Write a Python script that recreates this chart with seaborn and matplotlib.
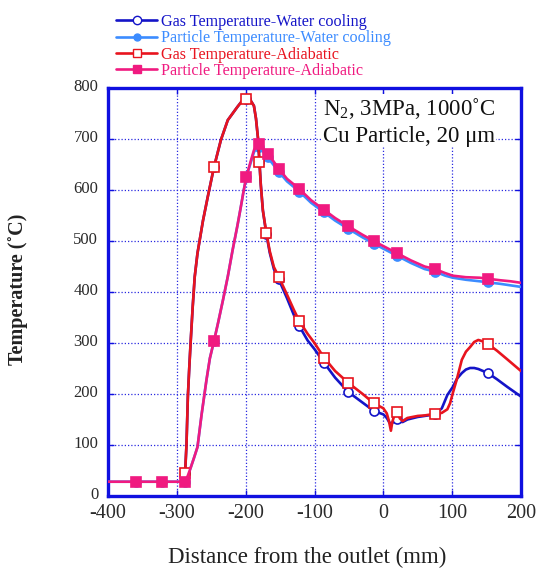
import matplotlib
matplotlib.use("Agg")
import matplotlib.pyplot as plt
import matplotlib.transforms as mtransforms
import seaborn as sns
from matplotlib.lines import Line2D

# ---------------- data ----------------
x_gas = [-290, -288, -286, -284, -282, -280, -277, -274, -270, -262, -255, -246, -236, -226,
         -212, -205, -199, -193, -188, -185, -182, -180, -178, -175, -170, -165, -159, -152,
         -140, -130, -122, -110, -100, -86, -70, -51, -30, -14, 0, 5, 8, 11, 13, 16, 20, 24,
         28, 35, 50, 60, 75, 85, 93, 97, 101, 107, 114, 120, 126, 132, 138, 145, 152, 165,
         180, 200]
gas_adiabatic = [30, 45, 100, 194, 250, 300, 370, 430, 476, 540, 587, 645, 698, 737,
                 763, 775, 778, 776, 765, 740, 700, 655, 610, 560, 516, 480, 449, 430,
                 395, 365, 343, 318, 300, 271, 245, 222, 200, 182, 172, 162, 148, 128, 145, 158, 165, 152,
                 147, 153, 157, 158, 161, 163, 170, 182, 202, 230, 267, 283, 292, 302, 306, 303, 298, 285,
                 268, 245]
gas_water = [30, 45, 100, 194, 250, 300, 370, 430, 476, 540, 587, 645, 698, 737,
             763, 775, 778, 776, 765, 740, 700, 655, 610, 560, 514, 477, 445, 425,
             388, 355, 333, 305, 288, 261, 232, 204, 183, 167, 160, 153, 146, 140, 143, 148, 151, 146,
             145, 150, 155, 157, 160, 172, 198, 206, 214, 230, 241, 248, 251, 251, 249, 245, 241, 229,
             214, 195]
gas_mark_x = [-288, -246, -199, -180, -170, -152, -122, -86, -51, -14, 20, 75, 152]

x_part = [-400, -359, -322, -288, -284, -280, -275, -270, -264, -257, -252, -246, -240, -233,
          -226, -219, -212, -207, -203, -199, -193, -188, -184, -180, -174, -168, -160, -152,
          -140, -122, -105, -86, -70, -51, -30, -14, 0, 20, 40, 60, 75, 90, 101, 120, 140, 152,
          170, 185, 200]
part_adiabatic = [28, 28, 28, 28, 40, 55, 75, 96, 160, 227, 270, 304, 340, 384,
                  430, 482, 530, 567, 598, 626, 655, 678, 688, 690, 680, 670, 657, 642,
                  622, 602, 580, 561, 545, 529, 512, 500, 490, 476, 462, 450, 445, 437, 432, 429, 428, 426,
                  423, 421, 418]
part_water = [28, 28, 28, 28, 40, 55, 75, 96, 160, 227, 270, 304, 340, 384,
              430, 482, 530, 567, 598, 626, 652, 674, 683, 684, 674, 664, 650, 636,
              617, 597, 575, 556, 540, 524, 507, 495, 485, 471, 457, 445, 440, 432, 428, 424, 421, 419,
              416, 413, 410]
part_mark_x = [-359, -322, -288, -246, -199, -180, -168, -152, -122, -86, -51, -14, 20, 75, 152]

labels = ["Gas Temperature-Water cooling", "Particle Temperature-Water cooling",
          "Gas Temperature-Adiabatic", "Particle Temperature-Adiabatic"]
x_ticks = [-400, -300, -200, -100, 0, 100, 200]
y_ticks = [0, 100, 200, 300, 400, 500, 600, 700, 800]

# ---------------- style ----------------
sns.set_style("ticks")
plt.rcParams["font.family"] = ["Liberation Serif", "DejaVu Serif"]
plt.rcParams["mathtext.fontset"] = "custom"
plt.rcParams["mathtext.rm"] = "Liberation Serif"

C_GW = "#1414C8"
C_PW = "#3C8CFF"
C_GA = "#E8141E"
C_PA = "#F01A80"
AXC = "#1010E0"

fig = plt.figure(figsize=(5.36, 5.68), dpi=100)
ax = fig.add_axes([108 / 536, 1 - 496 / 568, 413 / 536, 408 / 568])


def draw(x, y, color, marker, mfc, marks, z):
    idx = [list(x).index(m) for m in marks]
    sns.lineplot(x=x, y=y, ax=ax, color=color, linewidth=1.9, marker=marker,
                 markevery=idx, markersize=6.5, markerfacecolor=mfc,
                 markeredgecolor=color, markeredgewidth=1.2, sort=False,
                 estimator=None, zorder=z, legend=False)


draw(x_part, part_water, C_PW, "o", C_PW, part_mark_x, 3)
draw(x_gas, gas_water, C_GW, "o", "white", gas_mark_x, 4)
draw(x_gas, gas_adiabatic, C_GA, "s", "white", gas_mark_x, 5)
draw(x_part, part_adiabatic, C_PA, "s", C_PA, part_mark_x, 6)

ax.set_xlim(-400, 200)
ax.set_ylim(0, 800)
ax.set_xticks(x_ticks)
ax.set_yticks(y_ticks)
ax.set_xticklabels([str(v) for v in x_ticks])
ax.set_yticklabels([str(v) for v in y_ticks])
ax.set_xlabel("")
ax.set_ylabel("")
ax.grid(True, color="#2a2ae0", linestyle=(0, (1, 1.6)), linewidth=0.9)
ax.set_axisbelow(True)
for s in ax.spines.values():
    s.set_visible(True)
    s.set_color(AXC)
    s.set_linewidth(2.4)
ax.tick_params(axis="both", direction="in", top=True, right=True, length=4, width=1,
               color=AXC, labelcolor="#2a2a2a")
ax.tick_params(axis="x", labelsize=14.5, pad=5.5)
ax.tick_params(axis="y", labelsize=12, pad=7)
shift_up = mtransforms.ScaledTranslation(0, 3 / 100, fig.dpi_scale_trans)
for t in ax.get_yticklabels():
    t.set_transform(t.get_transform() + shift_up)

fig.text(18 / 536, 1 - 289 / 568, "Temperature (˚C)", rotation=90, ha="center", va="center",
         fontsize=14.5, fontweight="bold", color="#222222")
fig.text(307 / 536, 1 - 557 / 568, "Distance from the outlet (mm)", ha="center", va="center",
         fontsize=16.5, color="#222222")

fig.text(323 / 536, 1 - 96 / 568, "N$_2$, 3MPa, 1000˚C\nCu Particle, 20 μm", ha="left", va="top",
         fontsize=16.5, linespacing=1.3, color="#111111",
         bbox=dict(facecolor="white", edgecolor="none", pad=0.5))

handles = [
    Line2D([], [], color=C_GW, lw=1.9, marker="o", markersize=6, markerfacecolor="white", markeredgecolor=C_GW),
    Line2D([], [], color=C_PW, lw=1.9, marker="o", markersize=5, markerfacecolor=C_PW, markeredgecolor=C_PW),
    Line2D([], [], color=C_GA, lw=1.9, marker="s", markersize=6, markerfacecolor="white", markeredgecolor=C_GA),
    Line2D([], [], color=C_PA, lw=1.9, marker="s", markersize=6, markerfacecolor=C_PA, markeredgecolor=C_PA),
]
fig.legend(handles, labels, loc="upper left", bbox_to_anchor=(116 / 536, 1 - 14 / 568),
           frameon=False, fontsize=11.6, handlelength=2.55, handletextpad=0.25, labelspacing=0.02,
           borderpad=0, borderaxespad=0, labelcolor="linecolor")

fig.savefig("out.png", dpi=100)
